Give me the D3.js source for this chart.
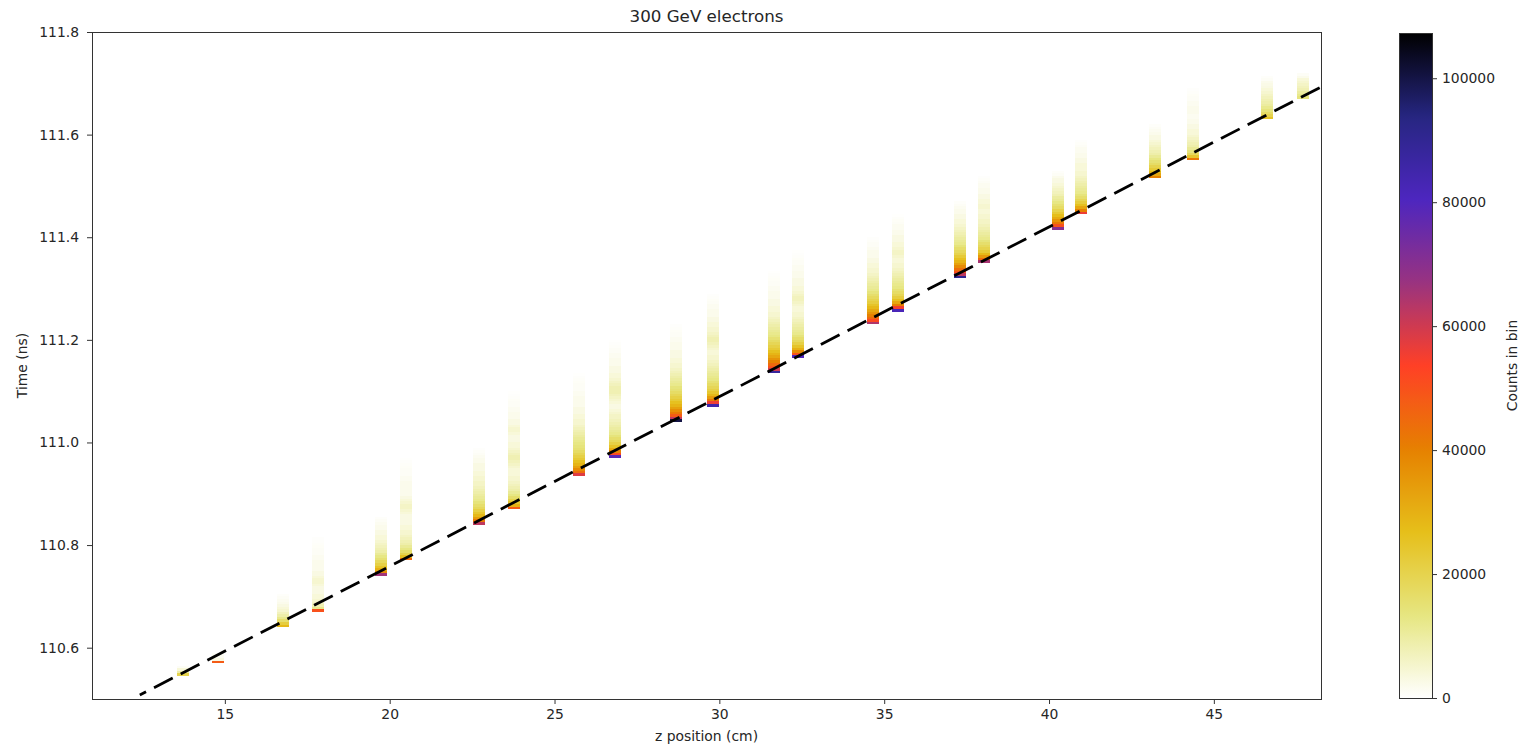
<!DOCTYPE html>
<html>
<head>
<meta charset="utf-8">
<script src="https://cdn.jsdelivr.net/npm/d3@7"></script>
<style>
  body { margin: 0; background: #fff; }
  text { font-family: "DejaVu Sans", sans-serif; fill: #262626; }
</style>
</head>
<body>
<svg id="chart" width="1526" height="745"></svg>
<script>
// ---- axis ranges and ticks ----
const zDomain = [10.97, 48.25];
const tDomain = [110.5, 111.8];
const xTicks = [15, 20, 25, 30, 35, 40, 45];
const yTicks = [110.6, 110.8, 111.0, 111.2, 111.4, 111.6, 111.8];
const countTicks = [0, 20000, 40000, 60000, 80000, 100000];
const countMax = 107300;

// ---- 2D histogram: one column of time bins per z bin ----
const zBinWidth = 0.36;   // cm
const tBinWidth = 0.005;  // ns
const zCenters = [13.73, 14.79, 16.76, 17.82, 19.73, 20.49, 22.71, 23.77,
                  25.74, 26.83, 28.68, 29.81, 31.66, 32.38, 34.66, 35.42,
                  37.30, 38.03, 40.26, 40.97, 43.22, 44.37, 46.61, 47.71];
// lower edge of the first filled time bin in each column (ns)
const tStarts = [110.545, 110.570, 110.640, 110.670, 110.740, 110.770, 110.840, 110.870,
                 110.935, 110.970, 111.040, 111.070, 111.135, 111.165, 111.230, 111.255,
                 111.320, 111.350, 111.415, 111.445, 111.515, 111.550, 111.630, 111.670];
// counts per time bin (thousands), from the lowest bin upward
const countsK = [
  [20, 9, 4, 1],
  [48, 3, 1.5, 0.8],
  [28, 22, 16, 12, 9, 7, 5, 4, 3, 2, 1.5, 1, 0.5],
  [50, 12, 8, 6, 5, 4, 4, 3, 3, 3, 4, 5, 5, 4, 3, 3, 2, 2, 2, 2, 1.5, 1.5, 1, 1, 1, 0.8, 0.6, 0.4, 0.3],
  [66, 38, 30, 25, 21, 18, 15, 13, 11, 9, 8, 7, 6, 5, 4, 4, 3, 3, 2, 2, 1.5, 1, 0.5],
  [45, 26, 20, 16, 13, 11, 9, 8, 7, 6, 5, 5, 4, 4, 3, 3, 3, 3, 4, 5, 6, 6, 5, 4, 3, 2, 2, 2, 2, 2, 2, 1.5, 1.5, 1, 1, 1, 0.8, 0.6, 0.4, 0.2],
  [62, 42, 34, 28, 24, 21, 18, 16, 14, 12, 11, 10, 9, 8, 7, 6, 6, 5, 5, 4, 4, 3, 3, 3, 2, 2, 1.5, 1, 0.6, 0.3],
  [48, 30, 24, 20, 16, 13, 11, 9, 8, 7, 6, 5, 5, 4, 4, 4, 5, 6, 7, 8, 8, 7, 6, 5, 4, 4, 3, 3, 3, 4, 5, 5, 4, 3, 3, 2, 2, 2, 1.5, 1.5, 1, 1, 0.8, 0.5, 0.3, 0.2],
  [58, 44, 38, 33, 29, 26, 23, 21, 19, 17, 15, 14, 13, 12, 11, 10, 9, 8, 7, 6, 5, 5, 4, 4, 3, 3, 3, 2, 2, 2, 2, 1.5, 1.5, 1, 1, 1, 0.8, 0.6, 0.4, 0.2],
  [78, 52, 40, 31, 25, 21, 18, 16, 14, 12, 11, 10, 9, 8, 7, 6, 6, 5, 4, 3, 3, 4, 5, 6, 7, 8, 8, 8, 7, 6, 5, 4, 4, 3, 3, 3, 2, 2, 2, 1.5, 1.5, 1, 1, 0.6, 0.4, 0.2],
  [100, 62, 48, 42, 37, 33, 29, 26, 23, 21, 19, 17, 15, 14, 12, 11, 10, 9, 8, 7, 6, 5, 5, 4, 4, 3, 3, 3, 2, 2, 2, 1.5, 1.5, 1, 1, 0.8, 0.5, 0.3],
  [85, 56, 42, 34, 28, 24, 21, 19, 17, 15, 13, 12, 11, 10, 9, 8, 7, 6, 5, 5, 4, 4, 5, 6, 7, 8, 8, 7, 6, 5, 5, 4, 4, 3, 3, 2, 2, 2, 1.5, 1.5, 1, 0.8, 0.5, 0.3],
  [88, 60, 50, 45, 40, 36, 32, 29, 26, 23, 21, 19, 17, 15, 13, 12, 11, 10, 9, 8, 7, 6, 5, 5, 4, 4, 3, 3, 3, 2, 2, 2, 1.5, 1.5, 1, 1, 0.8, 0.6, 0.4, 0.2],
  [80, 50, 38, 30, 25, 21, 18, 16, 14, 12, 11, 10, 9, 8, 7, 6, 5, 5, 4, 4, 5, 6, 7, 7, 6, 5, 4, 4, 3, 3, 3, 2, 2, 2, 1.5, 1.5, 1, 1, 0.8, 0.5, 0.3, 0.2],
  [64, 52, 45, 40, 36, 32, 28, 25, 22, 20, 18, 16, 14, 12, 11, 10, 9, 8, 7, 6, 5, 5, 4, 4, 3, 3, 2, 2, 2, 1.5, 1, 1, 0.6, 0.3],
  [82, 55, 40, 32, 26, 22, 19, 17, 15, 13, 12, 11, 10, 9, 8, 7, 6, 5, 5, 4, 4, 5, 6, 6, 5, 4, 4, 3, 3, 3, 2, 2, 1.5, 1.5, 1, 0.8, 0.5, 0.2],
  [90, 62, 50, 44, 38, 33, 29, 26, 23, 20, 18, 16, 14, 12, 11, 10, 9, 8, 7, 6, 5, 4, 4, 3, 3, 2, 2, 1.5, 1, 0.5],
  [65, 45, 35, 28, 23, 20, 18, 16, 14, 12, 11, 10, 9, 8, 7, 6, 6, 5, 5, 4, 4, 5, 5, 4, 4, 3, 3, 2, 2, 1.5, 1.5, 1, 0.6, 0.3],
  [70, 50, 42, 36, 31, 27, 23, 20, 17, 15, 13, 11, 10, 8, 7, 6, 5, 4, 3, 3, 2, 1, 0.5],
  [56, 40, 32, 26, 22, 19, 16, 14, 12, 11, 10, 9, 8, 7, 6, 5, 5, 4, 4, 4, 3, 3, 2, 2, 1.5, 1.5, 1, 0.6, 0.3],
  [40, 32, 27, 23, 20, 17, 15, 13, 11, 9, 8, 7, 6, 5, 4, 3, 3, 2, 1.5, 1, 0.5],
  [42, 24, 18, 14, 11, 9, 8, 7, 6, 5, 4, 4, 3, 3, 2, 2, 1.5, 1.5, 2, 2, 2, 1.5, 1.5, 1, 1, 0.8, 0.5, 0.3],
  [25, 20, 17, 14, 12, 10, 9, 8, 7, 6, 5, 4, 3, 2.5, 2, 1, 0.5],
  [14, 12, 10, 8, 7, 6, 5, 4, 2, 1]
];

// ---- light-speed reference line (endpoints) ----
const fitZ = [12.42, 48.25];
const fitT = [110.5078, 111.6928];

// reversed CMRmap colour stops, low counts to high counts
const cmapStops = ["#ffffff", "#e6e680", "#e6bf1a", "#e68000", "#ff4026",
                   "#993380", "#4d26bf", "#262680", "#000000"];

// ---- layout ----
const plot = { left: 92, right: 1321, top: 32, bottom: 699 };
const cbar = { left: 1399, right: 1432, top: 33, bottom: 698 };

const svg = d3.select("#chart");

const x = d3.scaleLinear().domain(zDomain).range([plot.left, plot.right]);
const y = d3.scaleLinear().domain(tDomain).range([plot.bottom, plot.top]);
const color = d3.scaleLinear()
  .domain(cmapStops.map((_, i) => i / (cmapStops.length - 1) * countMax))
  .range(cmapStops)
  .interpolate(d3.interpolateRgb)
  .clamp(true);

svg.append("defs").append("clipPath").attr("id", "plot-clip")
  .append("rect")
  .attr("x", plot.left).attr("y", plot.top)
  .attr("width", plot.right - plot.left).attr("height", plot.bottom - plot.top);

// histogram cells
const cells = [];
zCenters.forEach((z, j) => {
  countsK[j].forEach((c, i) => {
    cells.push({ z, t0: tStarts[j] + i * tBinWidth, count: c * 1000 });
  });
});

svg.append("g").attr("clip-path", "url(#plot-clip)")
  .selectAll("rect").data(cells).join("rect")
  .attr("x", d => x(d.z - zBinWidth / 2))
  .attr("width", d => x(d.z + zBinWidth / 2) - x(d.z - zBinWidth / 2))
  .attr("y", d => y(d.t0 + tBinWidth))
  .attr("height", d => y(d.t0) - y(d.t0 + tBinWidth))
  .attr("fill", d => color(d.count))
  .attr("shape-rendering", "crispEdges");

// dashed reference line
svg.append("path")
  .attr("clip-path", "url(#plot-clip)")
  .datum(fitZ.map((z, i) => [z, fitT[i]]))
  .attr("d", d3.line().x(d => x(d[0])).y(d => y(d[1])))
  .attr("fill", "none")
  .attr("stroke", "#000")
  .attr("stroke-width", 2.8)
  .attr("stroke-dasharray", "21,9")
  .attr("stroke-dashoffset", 14);

// axes
const xAxis = svg.append("g")
  .attr("transform", `translate(0,${plot.bottom})`)
  .call(d3.axisBottom(x).tickValues(xTicks).tickSize(5).tickPadding(5).tickFormat(d3.format("d")));
const yAxis = svg.append("g")
  .attr("transform", `translate(${plot.left},0)`)
  .call(d3.axisLeft(y).tickValues(yTicks).tickSize(5).tickPadding(8).tickFormat(d3.format(".1f")));
[xAxis, yAxis].forEach(g => {
  g.select(".domain").remove();
  g.selectAll(".tick line").attr("stroke", "#333");
  g.selectAll(".tick text").style("font-size", "13.9px").attr("fill", "#262626");
});

// plot frame
svg.append("rect")
  .attr("x", plot.left + 0.5).attr("y", plot.top + 0.5)
  .attr("width", plot.right - plot.left).attr("height", plot.bottom - plot.top)
  .attr("fill", "none").attr("stroke", "#333").attr("stroke-width", 1);

// titles
svg.append("text").attr("x", (plot.left + plot.right) / 2).attr("y", 22)
  .attr("text-anchor", "middle").style("font-size", "16.7px").text("300 GeV electrons");
svg.append("text").attr("x", (plot.left + plot.right) / 2).attr("y", 741)
  .attr("text-anchor", "middle").style("font-size", "13.9px").text("z position (cm)");
svg.append("text")
  .attr("transform", `translate(27,${(plot.top + plot.bottom) / 2}) rotate(-90)`)
  .attr("text-anchor", "middle").style("font-size", "13.9px").text("Time (ns)");

// colour bar
const cy = d3.scaleLinear().domain([0, countMax]).range([cbar.bottom, cbar.top]);
const grad = svg.select("defs").append("linearGradient")
  .attr("id", "cbar-grad").attr("x1", 0).attr("y1", 1).attr("x2", 0).attr("y2", 0);
d3.range(0, 101).forEach(i => {
  grad.append("stop").attr("offset", `${i}%`).attr("stop-color", color(i / 100 * countMax));
});
svg.append("rect")
  .attr("x", cbar.left).attr("y", cbar.top)
  .attr("width", cbar.right - cbar.left).attr("height", cbar.bottom - cbar.top)
  .attr("fill", "url(#cbar-grad)");
svg.append("rect")
  .attr("x", cbar.left + 0.5).attr("y", cbar.top + 0.5)
  .attr("width", cbar.right - cbar.left).attr("height", cbar.bottom - cbar.top)
  .attr("fill", "none").attr("stroke", "#333");
const cAxis = svg.append("g")
  .attr("transform", `translate(${cbar.right},0)`)
  .call(d3.axisRight(cy).tickValues(countTicks).tickSize(5).tickPadding(5).tickFormat(d3.format("d")));
cAxis.select(".domain").remove();
cAxis.selectAll(".tick line").attr("stroke", "#333");
cAxis.selectAll(".tick text").style("font-size", "13.9px").attr("fill", "#262626");
svg.append("text")
  .attr("transform", `translate(1517,${(cbar.top + cbar.bottom) / 2}) rotate(-90)`)
  .attr("text-anchor", "middle").style("font-size", "13.9px").text("Counts in bin");
</script>
</body>
</html>
